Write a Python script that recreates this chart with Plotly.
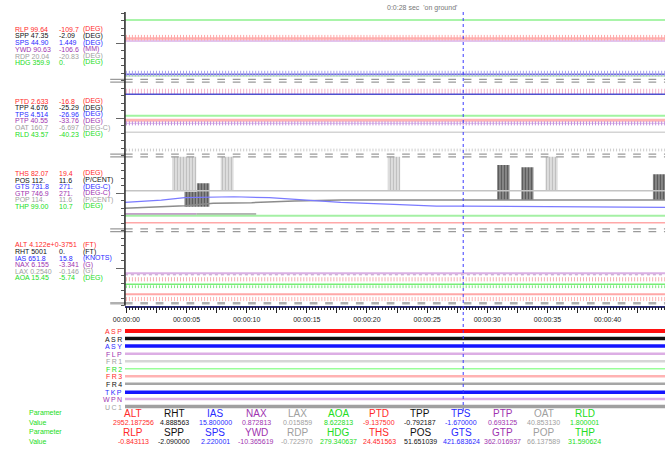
import numpy as np
import plotly.graph_objects as go

W, H = 668, 450
FONT = "Liberation Sans, Arial, sans-serif"

RED, BLACK, BLUE, PURPLE, GRAY, GREEN = "#ff2a2a", "#111111", "#2a2aff", "#a033b0", "#a0a0a0", "#22dd22"
ROW_COLORS = [RED, BLACK, BLUE, PURPLE, GRAY, GREEN]

# ---------------- time axis ----------------
T_START, T_END = -0.12, 44.78
TICK_TIMES = [0, 2.5, 5, 7.5, 10, 12.5, 15, 17.5, 20, 22.5, 25, 27.5, 30, 32.5, 35, 37.5, 40, 42.5, 45]
TICK_TEXT = ["00:00:00", "", "00:00:05", "", "00:00:10", "", "00:00:15", "", "00:00:20", "",
             "00:00:25", "", "00:00:30", "", "00:00:35", "", "00:00:40", "", "00:00:45"]
CURSOR_T = 28
CURSOR_TEXT = "0:0:28 sec  'on ground'"

# ---------------- panel legends (name, max, min, unit) ----------------
P1_NAMES = ["RLP", "SPP", "SPS", "YWD", "RDP", "HDG"]
P1_HI = ["99.64", "47.35", "44.90", "90.63", "20.04", "359.9"]
P1_LO = ["-109.7", "-2.09", "1.449", "-106.6", "-20.83", "0."]
P1_UNIT = ["(DEG)", "(DEG)", "(DEG)", "(MM)", "(DEG)", "(DEG)"]

P2_NAMES = ["PTD", "TPP", "TPS", "PTP", "OAT", "RLD"]
P2_HI = ["2.633", "4.676", "4.514", "40.55", "160.7", "43.57"]
P2_LO = ["-16.8", "-25.29", "-26.96", "-33.76", "-6.697", "-40.23"]
P2_UNIT = ["(DEG)", "(DEG)", "(DEG)", "(DEG)", "(DEG-C)", "(DEG)"]

P3_NAMES = ["THS", "POS", "GTS", "GTP", "POP", "THP"]
P3_HI = ["82.07", "112.", "731.8", "746.9", "114.", "99.00"]
P3_LO = ["19.4", "11.6", "271.", "271.", "11.6", "10.7"]
P3_UNIT = ["(DEG)", "(P/CENT)", "(DEG-C)", "(DEG-C)", "(P/CENT)", "(DEG)"]

P4_NAMES = ["ALT", "RHT", "IAS", "NAX", "LAX", "AOA"]
P4_HI = ["4.122e+0", "5001", "651.8", "6.155", "0.2540", "15.45"]
P4_LO = ["-3751", "0.", "15.8", "-3.341", "-0.146", "-5.74"]
P4_UNIT = ["(FT)", "(FT)", "(KNOTS)", "(G)", "(G)", "(DEG)"]

# ---------------- analog channel levels (axis divisions, 10 per panel) ----------------
HDG_LVL, RLP_LVL, YWD_LVL, SPS_LVL, SPP_LVL = 38.09, 35.63, 35.29, 30.85, 30.63
TPP_LVL, TPS_LVL, RLD_LVL, PTD_LVL, PTP_LVL, OAT_LVL, P2_FLOOR_LVL = 28.55, 28.19, 25.33, 24.72, 24.32, 23.12, 20.76
GTP_LVL, THP_LVL, THS_LVL, POP_LVL = 12.23, 12.0, 11.07, 15.33
NAX_LVL, LAX_LVL, AOA_LVL, RHT_LVL, ALT_LVL, IAS_LVL = 4.32, 3.52, 2.85, 2.53, 1.52, 0.89
GTP_END_T, GTP_GRAY_END_T = 5.84, 10.79

# varying channels
GTS_T = [-0.12, 2.90, 4.86, 7.22, 8.94, 11.88, 14.87, 17.81, 22.23, 25.76, 28.12, 34.90, 44.78]
GTS_V = [13.79, 14.09, 14.40, 14.45, 14.53, 14.40, 14.09, 13.79, 13.52, 13.29, 13.29, 13.20, 13.12]
POS_T = [-0.12, 2.90, 4.86, 7.22, 10.41, 13.98, 15.71, 17.81, 44.78]
POS_V = [12.99, 13.20, 13.33, 13.65, 13.73, 13.96, 14.00, 14.09, 14.09]

# oscillation bursts
POP_BURST_START = [3.80, 7.84, 21.73, 34.84]
POP_BURST_END = [5.81, 8.91, 22.76, 35.85]
POP_BURST_HIGH = 19.87
POS_BURST_START = [4.83, 5.86, 30.82, 32.83, 43.77]
POS_BURST_END = [5.86, 6.90, 31.85, 33.84, 44.78]
POS_BURST_LOW = [13.20, 13.20, 14.09, 14.09, 14.09]
POS_BURST_HIGH = [15.20, 16.32, 18.76, 18.45, 17.52]

SEPARATORS = [30.0, 20.03, 10.05]
LONG_TICKS = [5, 15, 25, 35]

# ---------------- discrete channels ----------------
DISC_NAMES = ["ASP", "ASR", "ASY", "FLP", "FR1", "FR2", "FR3", "FR4", "TKP", "WPN", "UC1"]
DISC_LABEL_COLORS = [RED, BLACK, BLUE, PURPLE, GRAY, GREEN, RED, BLACK, BLUE, PURPLE, GRAY]
DISC_LINE_COLORS = ["#ff1010", "#111111", "#1515ff", "#dcaee4", "#d6d6d6", "#99ff99",
                    "#ffb3b3", "#a6a6a6", "#1515ff", "#dcaee4", "#a0a0a0"]
DISC_WIDTHS = [4, 3.5, 3.5, 2.5, 2.5, 1.5, 2.5, 2.5, 3.5, 2.5, 3.5]
DISC_LEVELS = [0, 1, 2, 3, 4, 5, 6, 7, 8.1, 9, 10]

# ---------------- bottom parameter table ----------------
ROW1_PARAMS = ["ALT", "RHT", "IAS", "NAX", "LAX", "AOA", "PTD", "TPP", "TPS", "PTP", "OAT", "RLD"]
ROW1_VALUES = ["2952.187256", "4.888563", "15.800000", "0.872813", "0.015859", "8.622813",
               "-9.137500", "-0.792187", "-1.670000", "0.693125", "40.853130", "1.800001"]
ROW2_PARAMS = ["RLP", "SPP", "SPS", "YWD", "RDP", "HDG", "THS", "POS", "GTS", "GTP", "POP", "THP"]
ROW2_VALUES = ["-0.843113", "-2.090000", "2.220001", "-10.365619", "-0.722970", "279.340637",
               "24.451563", "51.651039", "421.683624", "362.016937", "66.137589", "31.590624"]
TABLE_COLORS = ROW_COLORS * 2

# =====================================================================
def px(x):
    return x / W


def py(y):
    return 1 - y / H


SAMPLE_T = np.arange(0, T_END, 0.25)
fig = go.Figure()


def hline(level, color, width, dash="solid", t0=T_START, t1=T_END, yaxis="y"):
    fig.add_trace(go.Scatter(x=[t0, t1], y=[level, level], mode="lines",
                             line=dict(color=color, width=width, dash=dash), yaxis=yaxis,
                             hoverinfo="skip", showlegend=False))


def tickrow(level, color, size=4, width=1):
    fig.add_trace(go.Scatter(x=SAMPLE_T, y=[level] * len(SAMPLE_T), mode="markers",
                             marker=dict(symbol="line-ns", size=size, line=dict(color=color, width=width)),
                             hoverinfo="skip", showlegend=False))


# panel 1
hline(HDG_LVL, "#8cf08c", 1.5)
hline(YWD_LVL, "#d8b0e8", 1.5)
hline(RLP_LVL, "#ffb0b0", 2.5)
tickrow(RLP_LVL + 0.1, "#ffa8a8", 4)
hline(SPP_LVL, "#9ad89a", 1)
hline(SPS_LVL, "#6a6ae0", 1.5)
tickrow(SPS_LVL + 0.1, "#a8a0ec", 4)
# panel 2
tickrow(TPP_LVL, "#f4b4cc", 4)
hline(TPS_LVL, "#5050d0", 1.5)
hline(RLD_LVL, "#a0f4a0", 2)
hline(PTD_LVL, "#ffb4b4", 3)
hline(PTP_LVL, "#dcb8ea", 1)
tickrow(PTP_LVL, "#c090dc", 3)
hline(OAT_LVL, "#d4d4d4", 1.5)
tickrow(P2_FLOOR_LVL, "#cccccc", 2)
# panel 3
hline(POP_LVL, "#c4c4c4", 1.5)
fig.add_trace(go.Bar(x=[(a + b) / 2 for a, b in zip(POP_BURST_START, POP_BURST_END)],
                     width=[b - a for a, b in zip(POP_BURST_START, POP_BURST_END)],
                     base=[POP_LVL] * len(POP_BURST_START),
                     y=[POP_BURST_HIGH - POP_LVL] * len(POP_BURST_START),
                     marker=dict(color="#e2e2e2", line=dict(width=0),
                                 pattern=dict(shape="|", fgcolor="#9a9a9a", bgcolor="#e2e2e2", size=3, solidity=0.45)),
                     hoverinfo="skip", showlegend=False))
fig.add_trace(go.Scatter(x=POS_T, y=POS_V, mode="lines", line=dict(color="#8c8c8c", width=1.5),
                         hoverinfo="skip", showlegend=False))
fig.add_trace(go.Bar(x=[(a + b) / 2 for a, b in zip(POS_BURST_START, POS_BURST_END)],
                     width=[b - a for a, b in zip(POS_BURST_START, POS_BURST_END)],
                     base=POS_BURST_LOW,
                     y=[h - l for h, l in zip(POS_BURST_HIGH, POS_BURST_LOW)],
                     marker=dict(color="#9a9a9a", line=dict(width=0),
                                 pattern=dict(shape="|", fgcolor="#1a1a1a", bgcolor="#9a9a9a", size=3, solidity=0.55)),
                     hoverinfo="skip", showlegend=False))
fig.add_trace(go.Scatter(x=GTS_T, y=GTS_V, mode="lines", line=dict(color="#7a7aff", width=1.2),
                         hoverinfo="skip", showlegend=False))
hline(GTP_LVL, "#b080b8", 1.5, t1=GTP_END_T)
hline(GTP_LVL, "#9a9a9a", 1.5, t0=GTP_END_T, t1=GTP_GRAY_END_T)
hline(THP_LVL, "#a4f0a4", 2)
hline(THS_LVL, "#ffa8a8", 1.5)
# panel 4
hline(NAX_LVL, "#dab0e4", 2)
hline(NAX_LVL - 0.2, "#c098c8", 1, dash="dot")
tickrow(LAX_LVL, "#f4b0b0", 3)
hline(AOA_LVL, "#78ee78", 1.5)
tickrow(RHT_LVL, "#80e880", 2)
hline(ALT_LVL, "#ffa8a8", 2)
tickrow(IAS_LVL, "#ffb0b0", 3)

# discrete channels
for lvl, col, w in zip(DISC_LEVELS, DISC_LINE_COLORS, DISC_WIDTHS):
    hline(lvl, col, w, yaxis="y2")

# ---------------- shapes ----------------
shapes = []
X0, X1 = px(115), px(665)
for s in SEPARATORS:
    for off in (-0.18, 0.18):
        shapes.append(dict(type="line", xref="paper", yref="y", x0=X0, x1=X1, y0=s + off, y1=s + off,
                           line=dict(color="#9a9a9a", width=1.3, dash="7.7px,7.7px")))
        shapes.append(dict(type="line", xref="paper", yref="y", x0=px(100), x1=X0, y0=s + off, y1=s + off,
                           line=dict(color="#9a9a9a", width=1.3)))
shapes.append(dict(type="line", xref="paper", yref="y", x0=X0, x1=X1, y0=0.32, y1=0.32,
                   line=dict(color="#b0b0b0", width=2.5, dash="7.7px,7.7px")))
shapes.append(dict(type="line", xref="paper", yref="y", x0=px(100), x1=X0, y0=0.32, y1=0.32,
                   line=dict(color="#b0b0b0", width=2.5)))
shapes.append(dict(type="line", xref="paper", yref="paper", x0=X0, x1=X0, y0=py(12), y1=py(305.7),
                   line=dict(color="#222222", width=1.5)))
shapes.append(dict(type="line", xref="x", yref="paper", x0=CURSOR_T, x1=CURSOR_T, y0=py(12), y1=py(412),
                   line=dict(color="#3a3aff", width=1, dash="3px,3px")))

# ---------------- annotations ----------------
ann = []


def text(x, y, s, color, size=7, xanchor="left", yref="paper"):
    ann.append(dict(x=x, y=y, xref="paper", yref=yref, text=s, showarrow=False, xanchor=xanchor,
                    yanchor="middle", borderpad=0, font=dict(family=FONT, size=size, color=color)))


ann.append(dict(x=px(455), y=py(8), xref="paper", yref="paper", text=CURSOR_TEXT, showarrow=False,
                xanchor="right", yanchor="middle", font=dict(family=FONT, size=7, color="#777777")))

blocks = [
    (P1_NAMES, P1_HI, P1_LO, P1_UNIT, [29.3, 36, 42.7, 49.3, 56, 62.3]),
    (P2_NAMES, P2_HI, P2_LO, P2_UNIT, [101, 107.7, 114, 120.7, 127.7, 134.3]),
    (P3_NAMES, P3_HI, P3_LO, P3_UNIT, [173.3, 180, 186.7, 193, 199.7, 206]),
    (P4_NAMES, P4_HI, P4_LO, P4_UNIT, [245, 251.7, 258, 264.7, 271.3, 277.7]),
]
for names, hi, lo, unit, ys in blocks:
    for n, h, l, u, y, c in zip(names, hi, lo, unit, ys, ROW_COLORS):
        text(px(2), py(y), n + " " + h, c)
        text(px(46.5), py(y), l, c)
        text(px(71.5), py(y), u, c)

THIN = "\u2009"
for name, lvl, col in zip(DISC_NAMES, DISC_LEVELS, DISC_LABEL_COLORS):
    ann.append(dict(x=px(113), y=lvl, xref="paper", yref="y2", text=THIN.join(name), showarrow=False,
                    xanchor="right", yanchor="middle", yshift=-0.5, borderpad=0,
                    font=dict(family=FONT, size=7, color=col)))

for lab, y in zip(["Parameter", "Value", "Parameter", "Value"], [412.3, 422, 431.7, 441.3]):
    text(px(16), py(y), lab, GREEN)

for i in range(12):
    cx = px(123.3 + 41.8 * i)
    text(cx, py(413), ROW1_PARAMS[i], TABLE_COLORS[i], size=10, xanchor="center")
    text(cx, py(422), ROW1_VALUES[i], TABLE_COLORS[i], size=7, xanchor="center")
    text(cx, py(432.5), ROW2_PARAMS[i], TABLE_COLORS[i], size=10, xanchor="center")
    text(cx, py(441.5), ROW2_VALUES[i], TABLE_COLORS[i], size=7, xanchor="center")

fig.update_layout(
    width=W, height=H, margin=dict(l=0, r=0, t=0, b=0),
    paper_bgcolor="white", plot_bgcolor="white", showlegend=False, barmode="overlay",
    font=dict(family=FONT),
    xaxis=dict(domain=[X0, X1], range=[T_START, T_END], anchor="y", showgrid=False, zeroline=False,
               showline=True, linecolor="#2e2e7a", linewidth=1.5,
               tickmode="array", tickvals=TICK_TIMES, ticktext=TICK_TEXT,
               ticks="outside", ticklen=6, tickwidth=1, tickcolor="#222222",
               tickfont=dict(family=FONT, size=7, color="#222222"),
               minor=dict(tickmode="linear", tick0=0, dtick=0.25, ticks="outside", ticklen=3,
                          tickcolor="#222222", showgrid=False)),
    yaxis=dict(domain=[py(305.7), py(5.7)], range=[0, 40], anchor="x", showgrid=False, zeroline=False,
               showline=False, showticklabels=False, tickmode="array", tickvals=list(range(0, 40)),
               ticks="outside", ticklen=3, tickcolor="#555555"),
    yaxis3=dict(overlaying="y", range=[0, 40], anchor="x", side="left", showgrid=False, zeroline=False,
                showline=False, showticklabels=False, tickmode="array", tickvals=LONG_TICKS,
                ticks="outside", ticklen=8, tickcolor="#666666"),
    yaxis2=dict(domain=[py(410.3), py(327.2)], range=[10.5, -0.5], anchor="x", visible=False),
    shapes=shapes, annotations=ann,
)
fig.add_trace(go.Scatter(x=[None], y=[None], yaxis="y3", showlegend=False, hoverinfo="skip"))

fig.write_html("out.html", config={"displayModeBar": False})
